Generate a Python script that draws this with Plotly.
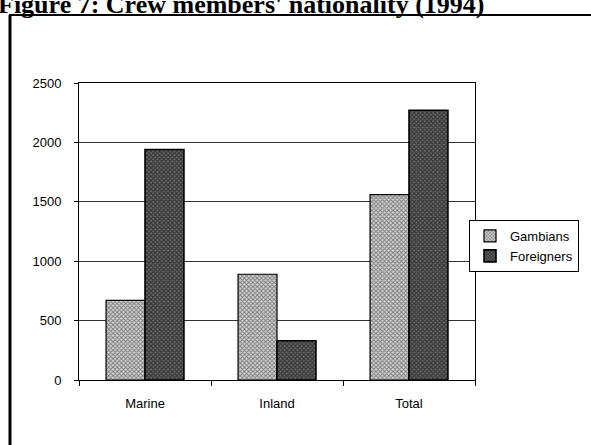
import plotly.graph_objects as go

# Crew members by nationality, 1994
categories = ["Marine", "Inland", "Total"]
gambians = [670, 890, 1560]
foreigners = [1940, 330, 2270]
y_ticks = [0, 500, 1000, 1500, 2000, 2500]

W, H = 591, 445
L, R, T, B = 79, 475, 83, 380  # plot area in pixels


def px_x(x):
    return (x - L) / (R - L)


def px_y(y):
    return (B - y) / (B - T)


fig = go.Figure()
fig.add_trace(go.Bar(
    name="Gambians", x=categories, y=gambians,
    marker=dict(color="white", line=dict(color="black", width=1.2),
                pattern=dict(shape="x", size=3, solidity=0.5,
                             fgcolor="#1a1a1a", bgcolor="#d6d6d6")),
))
fig.add_trace(go.Bar(
    name="Foreigners", x=categories, y=foreigners,
    marker=dict(color="white", line=dict(color="black", width=1.6),
                pattern=dict(shape="x", size=3, solidity=0.6,
                             fgcolor="#000000", bgcolor="#6a6a6a")),
))

font = dict(family="Liberation Sans, Arial, sans-serif", size=13, color="black")

fig.update_layout(
    width=W, height=H,
    margin=dict(l=L, r=W - R, t=T, b=H - B, autoexpand=False),
    paper_bgcolor="white", plot_bgcolor="white",
    barmode="group", bargap=0.41, bargroupgap=0,
    font=font,
    xaxis=dict(showline=True, linecolor="black", linewidth=1, mirror=True,
               ticks="outside", ticklen=5, tickcolor="black",
               tickson="boundaries", showgrid=False, automargin=False,
               tickfont=dict(size=13), ticklabelstandoff=11),
    yaxis=dict(range=[0, 2500], tickvals=y_ticks, showline=True,
               linecolor="black", linewidth=1, mirror=True,
               ticks="outside", ticklen=4, tickcolor="black",
               showgrid=True, gridcolor="#333333", gridwidth=1,
               zeroline=False, automargin=False,
               tickfont=dict(size=13), ticklabelstandoff=10),
    legend=dict(x=px_x(579), y=px_y(220), xanchor="right", yanchor="top",
                bordercolor="black", borderwidth=1, bgcolor="white",
                font=dict(family="Liberation Sans, Arial, sans-serif", size=13),
                itemwidth=30, tracegroupgap=0),
    showlegend=True,
)

# Outer frame around the chart
fig.add_shape(type="line", xref="paper", yref="paper",
              x0=px_x(10), x1=px_x(10), y0=px_y(15), y1=px_y(H + 5),
              line=dict(color="black", width=3))
fig.add_shape(type="line", xref="paper", yref="paper",
              x0=px_x(9), x1=px_x(W + 5), y0=px_y(15), y1=px_y(15),
              line=dict(color="black", width=2))

# Figure caption, sitting at the very top edge of the page
fig.add_annotation(
    text="<b>Figure 7: Crew members' nationality (1994)</b>",
    xref="paper", yref="paper", x=px_x(486), y=px_y(-12),
    xanchor="right", yanchor="top", showarrow=False,
    font=dict(family="Liberation Serif, Times New Roman, serif", size=26, color="black"),
)

fig.write_html("out.html")
